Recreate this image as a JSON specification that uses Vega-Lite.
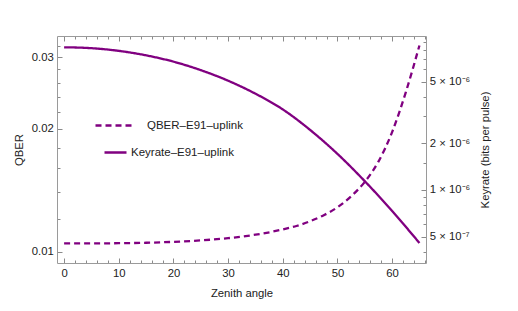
{
  "$schema": "https://vega.github.io/schema/vega-lite/v6.json",
  "width": 369,
  "height": 227,
  "autosize": {"type": "none"},
  "padding": {"left": 57, "top": 36, "right": 92, "bottom": 48},
  "config": {
    "view": {"stroke": null},
    "font": "Liberation Sans",
    "axis": {
      "grid": false,
      "domainColor": "#9a9a9a",
      "domainWidth": 1,
      "tickColor": "#8a8a8a",
      "tickWidth": 1,
      "labelFont": "Liberation Sans",
      "labelFontSize": 11.3,
      "labelColor": "#222222",
      "titleFont": "Liberation Sans",
      "titleFontSize": 11.3,
      "titleFontWeight": "normal",
      "titleColor": "#222222"
    }
  },
  "layer": [
    {
      "data": {
        "values": [
          {"angle": 0, "qber": 0.010474, "series": "QBER–E91–uplink"},
          {"angle": 5, "qber": 0.010479, "series": "QBER–E91–uplink"},
          {"angle": 10, "qber": 0.010489, "series": "QBER–E91–uplink"},
          {"angle": 15, "qber": 0.010517, "series": "QBER–E91–uplink"},
          {"angle": 20, "qber": 0.01057, "series": "QBER–E91–uplink"},
          {"angle": 25, "qber": 0.010656, "series": "QBER–E91–uplink"},
          {"angle": 30, "qber": 0.010792, "series": "QBER–E91–uplink"},
          {"angle": 35, "qber": 0.011005, "series": "QBER–E91–uplink"},
          {"angle": 40, "qber": 0.011338, "series": "QBER–E91–uplink"},
          {"angle": 42.5, "qber": 0.011562, "series": "QBER–E91–uplink"},
          {"angle": 45, "qber": 0.011878, "series": "QBER–E91–uplink"},
          {"angle": 47.5, "qber": 0.012287, "series": "QBER–E91–uplink"},
          {"angle": 50, "qber": 0.012851, "series": "QBER–E91–uplink"},
          {"angle": 52.5, "qber": 0.013677, "series": "QBER–E91–uplink"},
          {"angle": 55, "qber": 0.014825, "series": "QBER–E91–uplink"},
          {"angle": 57.5, "qber": 0.016634, "series": "QBER–E91–uplink"},
          {"angle": 60, "qber": 0.019652, "series": "QBER–E91–uplink"},
          {"angle": 62.5, "qber": 0.024604, "series": "QBER–E91–uplink"},
          {"angle": 65, "qber": 0.032063, "series": "QBER–E91–uplink"}
        ]
      },
      "mark": {"type": "line", "color": "#800080", "strokeWidth": 2.3, "interpolate": "monotone"},
      "encoding": {
        "x": {
          "field": "angle",
          "type": "quantitative",
          "scale": {"domain": [-1.3, 66.2], "nice": false, "zero": false},
          "axis": {
            "orient": "bottom",
            "title": "Zenith angle",
            "values": [0, 2, 4, 6, 8, 10, 12, 14, 16, 18, 20, 22, 24, 26, 28, 30, 32, 34, 36, 38, 40, 42, 44, 46, 48, 50, 52, 54, 56, 58, 60, 62, 64, 66],
            "labelExpr": "datum.value % 10 === 0 ? datum.label : ''",
            "tickSize": {"condition": {"test": "datum.value % 10 === 0", "value": -5}, "value": -3},
            "labelPadding": 9.5,
            "labelFlush": false,
            "titleX": 184.5,
            "titleY": 30.5,
            "titleBaseline": "middle"
          }
        },
        "y": {
          "field": "qber",
          "type": "quantitative",
          "scale": {"type": "log", "domain": [0.00938, 0.03382], "nice": false},
          "axis": {
            "orient": "left",
            "title": "QBER",
            "values": [0.01, 0.012, 0.014, 0.016, 0.018, 0.02, 0.022, 0.024, 0.026, 0.028, 0.03, 0.032],
            "labelExpr": "indexof([0.01, 0.02, 0.03], datum.value) >= 0 ? format(datum.value, '.2f') : ''",
            "tickSize": {"condition": {"test": "indexof([0.01, 0.02, 0.03], datum.value) >= 0", "value": -5}, "value": -3},
            "labelPadding": 8.7,
            "labelFlush": false,
            "titleAngle": -90,
            "titleX": -37.7,
            "titleY": 113.5,
            "titleBaseline": "middle",
            "titleAlign": "center"
          }
        },
        "strokeDash": {
          "field": "series",
          "type": "nominal",
          "scale": {"domain": ["QBER–E91–uplink", "Keyrate–E91–uplink"], "range": [[6, 4], [1, 0]]},
          "legend": {
            "orient": "none",
            "legendX": 37,
            "legendY": 68,
            "title": null,
            "symbolType": "stroke",
            "symbolSize": 1600,
            "symbolStrokeWidth": 2.3,
            "symbolStrokeColor": "#800080",
            "labelFont": "Liberation Sans",
            "labelFontSize": 11.5,
            "labelColor": "#222222",
            "labelOffset": 10,
            "rowPadding": -6,
            "encoding": {
              "symbols": {"size": {"value": {"expr": "datum.label === 'Keyrate–E91–uplink' ? 484 : 1600"}}},
              "labels": {"dx": {"value": {"expr": "datum.label === 'Keyrate–E91–uplink' ? -16 : 0"}}}
            }
          }
        }
      }
    },
    {
      "data": {
        "values": [
          {"angle": 0, "keyrate": 8.33e-6, "series": "Keyrate–E91–uplink"},
          {"angle": 5, "keyrate": 8.22e-6, "series": "Keyrate–E91–uplink"},
          {"angle": 10, "keyrate": 7.9e-6, "series": "Keyrate–E91–uplink"},
          {"angle": 15, "keyrate": 7.39e-6, "series": "Keyrate–E91–uplink"},
          {"angle": 20, "keyrate": 6.73e-6, "series": "Keyrate–E91–uplink"},
          {"angle": 25, "keyrate": 5.93e-6, "series": "Keyrate–E91–uplink"},
          {"angle": 30, "keyrate": 5.07e-6, "series": "Keyrate–E91–uplink"},
          {"angle": 35, "keyrate": 4.18e-6, "series": "Keyrate–E91–uplink"},
          {"angle": 40, "keyrate": 3.31e-6, "series": "Keyrate–E91–uplink"},
          {"angle": 45, "keyrate": 2.44e-6, "series": "Keyrate–E91–uplink"},
          {"angle": 50, "keyrate": 1.71e-6, "series": "Keyrate–E91–uplink"},
          {"angle": 55, "keyrate": 1.14e-6, "series": "Keyrate–E91–uplink"},
          {"angle": 60, "keyrate": 7.32e-7, "series": "Keyrate–E91–uplink"},
          {"angle": 65, "keyrate": 4.55e-7, "series": "Keyrate–E91–uplink"}
        ]
      },
      "mark": {"type": "line", "color": "#800080", "strokeWidth": 2.3, "interpolate": "monotone"},
      "encoding": {
        "x": {
          "field": "angle",
          "type": "quantitative",
          "scale": {"domain": [-1.3, 66.2], "nice": false, "zero": false},
          "axis": {
            "orient": "top",
            "title": null,
            "labels": false,
            "values": [0, 2, 4, 6, 8, 10, 12, 14, 16, 18, 20, 22, 24, 26, 28, 30, 32, 34, 36, 38, 40, 42, 44, 46, 48, 50, 52, 54, 56, 58, 60, 62, 64, 66],
            "tickSize": {"condition": {"test": "datum.value % 10 === 0", "value": -5}, "value": -3}
          }
        },
        "y": {
          "field": "keyrate",
          "type": "quantitative",
          "scale": {"type": "log", "domain": [3.38e-7, 9.85e-6], "nice": false},
          "axis": {
            "orient": "right",
            "title": "Keyrate (bits per pulse)",
            "values": [4e-7, 5e-7, 6e-7, 7e-7, 8e-7, 9e-7, 1e-6, 1.5e-6, 2e-6, 3e-6, 4e-6, 5e-6, 6e-6, 7e-6, 8e-6, 9e-6],
            "labelExpr": "datum.value === 5e-6 ? '5 × 10⁻⁶' : datum.value === 2e-6 ? '2 × 10⁻⁶' : datum.value === 1e-6 ? '1 × 10⁻⁶' : datum.value === 5e-7 ? '5 × 10⁻⁷' : ''",
            "tickSize": {"condition": {"test": "indexof([5e-7, 1e-6, 2e-6, 5e-6], datum.value) >= 0", "value": -5}, "value": -3},
            "labelPadding": 8.3,
            "labelFlush": false,
            "titleAngle": -90,
            "titleX": 59,
            "titleY": 113.5,
            "titleBaseline": "middle",
            "titleAlign": "center"
          }
        },
        "strokeDash": {"field": "series", "type": "nominal"}
      }
    }
  ],
  "resolve": {"scale": {"y": "independent"}}
}
